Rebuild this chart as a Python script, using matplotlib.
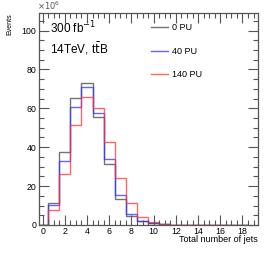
import numpy as np
import matplotlib
matplotlib.use('Agg')
from matplotlib import pyplot as plt
from matplotlib.ticker import MultipleLocator

plt.rcParams['font.family'] = ['Liberation Sans', 'DejaVu Sans']

# number of jets (bin centres) and events in units of 1e6
njets = list(range(0, 19))
pu0 = [0, 11.2, 37.4, 65.5, 72.8, 55.4, 31.2, 13.4, 4.8, 2.2, 1.0, 0.3, 0.1, 0, 0, 0, 0, 0, 0]
pu40 = [0, 10.1, 33.1, 60.5, 71.1, 57.7, 33.8, 15.4, 5.5, 2.0, 0.8, 0.3, 0.1, 0, 0, 0, 0, 0, 0]
pu140 = [0, 7.6, 26.0, 51.4, 66.0, 60.3, 42.5, 24.0, 11.2, 4.3, 1.4, 0.5, 0.1, 0, 0, 0, 0, 0, 0]
labels = ["0 PU", "40 PU", "140 PU"]
colors = ["#444444", "#3333ff", "#ff3333"]

edges = np.arange(-0.5, 19.0, 1.0)

fig = plt.figure(figsize=(2.7, 2.59), dpi=100)
ax = fig.add_axes([39.3 / 270, 1 - 225 / 259, (258 - 39.3) / 270, (225 - 13) / 259])

for vals, lab, c in zip([pu0, pu40, pu140], labels, colors):
    ax.stairs(vals, edges, color=c, lw=1.0, alpha=0.75, label=lab)

ax.set_xlim(-0.3, 19.4)
ax.set_ylim(0, 109)
ax.xaxis.set_major_locator(MultipleLocator(2))
ax.xaxis.set_minor_locator(MultipleLocator(0.5))
ax.yaxis.set_major_locator(MultipleLocator(20))
ax.yaxis.set_minor_locator(MultipleLocator(5))
ax.tick_params(which='both', direction='in', top=True, right=True, labelsize=6.3, width=0.8, color='#555555')
ax.tick_params(which='major', length=7)
ax.tick_params(which='minor', length=3.5)
ax.tick_params(axis='x', pad=1.5)
ax.tick_params(axis='y', pad=2)
for s in ax.spines.values():
    s.set_linewidth(0.9)
    s.set_color('#555555')

fig.text(1 - 12 / 270, 1 - 240 / 259, "Total number of jets", ha='right', va='center', fontsize=6.5)
fig.text(10 / 270, 1 - 13 / 259, "Events", rotation=90, ha='center', va='top', fontsize=5)
fig.text(37 / 270, 1 - 6 / 259, r"$\times10^{6}$", ha='left', va='center', fontsize=6, color='#555555')
ax.text(0.05, 0.93, r"300 fb$^{-1}$", transform=ax.transAxes, fontsize=8.5, va='center')
ax.text(0.05, 0.83, r"14TeV, t$\bar{\mathrm{t}}$B", transform=ax.transAxes, fontsize=8.5, va='center')

ax.legend(loc='upper left', bbox_to_anchor=(0.475, 0.99), frameon=False, fontsize=6.5,
          handlelength=1.9, handletextpad=0.35, labelspacing=1.6)

fig.savefig('out.png', dpi=100)
